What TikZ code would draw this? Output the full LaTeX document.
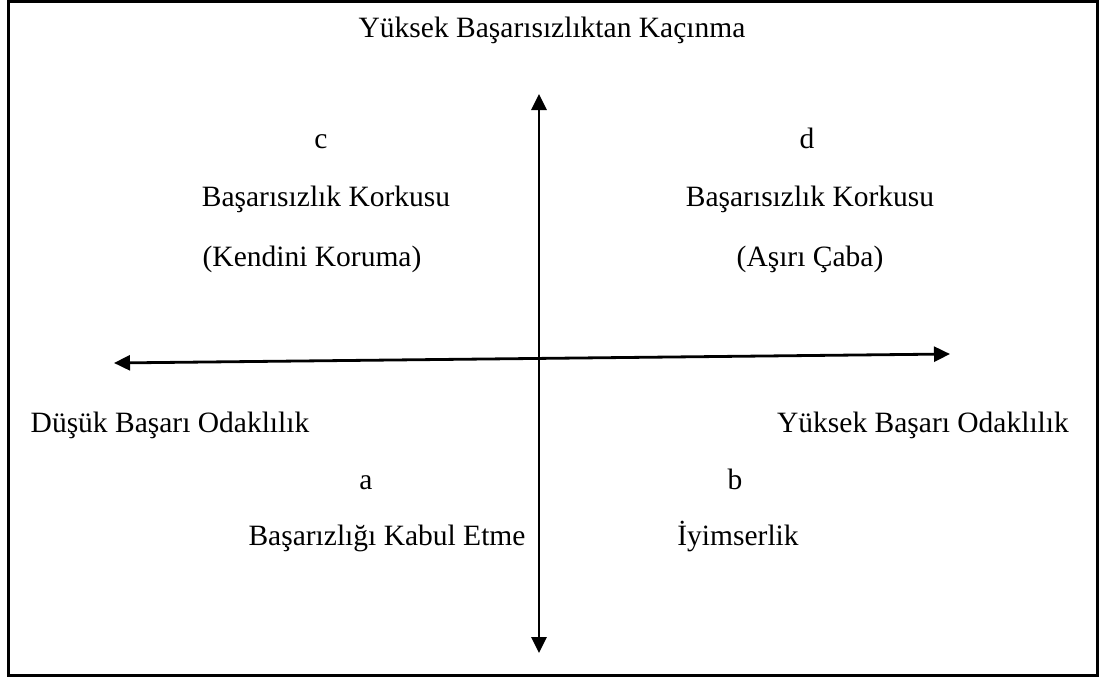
\documentclass[tikz,border=0pt]{standalone}
\usepackage{fontspec}
\setmainfont{Liberation Serif}
\usetikzlibrary{arrows.meta}
\begin{document}
\begin{tikzpicture}[x=1pt,y=-1pt,
  lbl/.style={anchor=base,inner sep=0pt,font=\fontsize{29.5}{35}\selectfont},
  axis/.style={line width=2.8pt,{Triangle[length=16pt,width=15pt]}-{Triangle[length=16pt,width=15pt]}}]
\useasboundingbox (0,0) rectangle (1106,677);
\draw[line width=3pt] (8.3,1.5) rectangle (1097.5,675);
\coordinate (vt) at (539,94);
\coordinate (vb) at (539,653);
\coordinate (hl) at (114,363);
\coordinate (hr) at (950,354);
\draw[axis] (vb) -- (vt);
\draw[axis] (hl) -- (hr);
\node[lbl] (top) at (552,38) {Yüksek Başarısızlıktan Kaçınma};
\node[lbl] (c) at (321,148) {c};
\node[lbl] (d) at (807,148) {d};
\node[lbl] (c1) at (326,206) {Başarısızlık Korkusu};
\node[lbl] (d1) at (810,206) {Başarısızlık Korkusu};
\node[lbl] (c2) at (312,266) {(Kendini Koruma)};
\node[lbl] (d2) at (810,266) {(Aşırı Çaba)};
\node[lbl] (low) at (170,432) {Düşük Başarı Odaklılık};
\node[lbl] (high) at (923,432) {Yüksek Başarı Odaklılık};
\node[lbl] (a) at (366,489) {a};
\node[lbl] (b) at (735,489) {b};
\node[lbl] (a1) at (387,545) {Başarızlığı Kabul Etme};
\node[lbl] (b1) at (738,545) {İyimserlik};
\end{tikzpicture}
\end{document}
